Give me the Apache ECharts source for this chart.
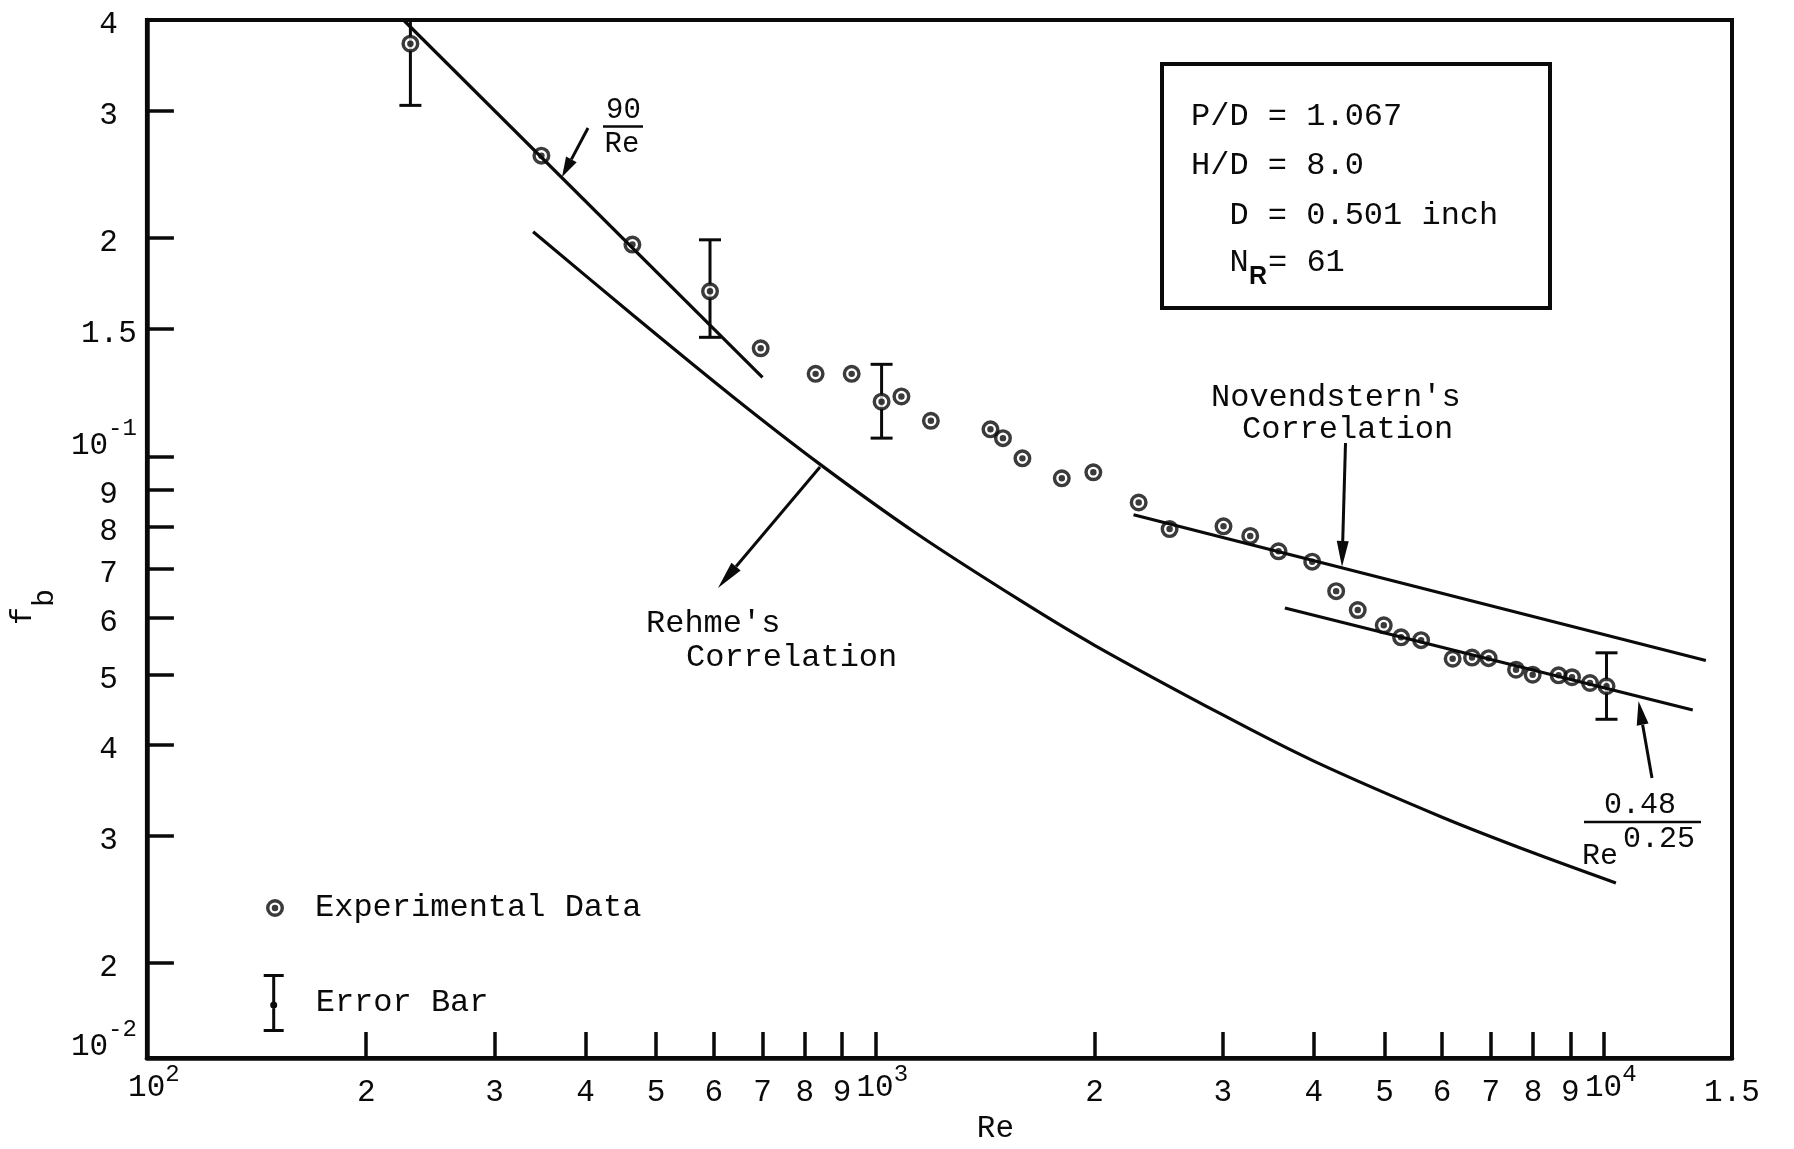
<!DOCTYPE html>
<html>
<head>
<meta charset="utf-8">
<title>Bundle friction factor vs Reynolds number</title>
<script src="https://cdn.jsdelivr.net/npm/echarts@6/dist/echarts.min.js"></script>
<style>
  html, body { margin: 0; padding: 0; background: #fff; }
  #chart { width: 1794px; height: 1149px; }
</style>
</head>
<body>
<div id="chart"></div>
<script>
// ---- measured bundle friction factor ----
const reynolds = [230, 348, 464, 593, 696, 828, 928, 1020, 1086, 1192, 1439, 1497, 1592, 1803, 1992, 2299, 2535, 3006, 3271, 3577, 3979, 4292, 4595, 4989, 5270, 5614, 6203, 6595, 6950, 7579, 7988, 8670, 9046, 9575, 10088];
const frictionFactor = [0.371, 0.260, 0.196, 0.169, 0.141, 0.130, 0.130, 0.119, 0.121, 0.112, 0.109, 0.106, 0.0994, 0.0933, 0.0951, 0.0864, 0.0794, 0.0801, 0.0777, 0.0740, 0.0716, 0.0652, 0.0614, 0.0585, 0.0563, 0.0558, 0.0526, 0.0528, 0.0527, 0.0508, 0.0500, 0.0499, 0.0496, 0.0487, 0.0482];

// ---- error bars (Re, lower, upper) ----
const errorBarRe = [230, 593, 1020, 10088];
const errorBarLow = [0.305, 0.146, 0.106, 0.0434];
const errorBarHigh = [0.450, 0.199, 0.134, 0.0536];

// ---- reference curves ----
const laminarRe = [225, 700];            // 90 / Re
const laminarFb = [0.400, 0.1286];
const rehmeRe = [339, 465, 638, 839, 1139, 1589, 2000, 3000, 4000, 6000, 8000, 10393];
const rehmeFb = [0.2042, 0.1566, 0.1208, 0.0976, 0.0783, 0.0631, 0.0549, 0.0440, 0.0380, 0.0318, 0.0284, 0.0258];
const novendsternRe = [2262, 13810];
const novendsternFb = [0.0831, 0.0523];
const fitRe = [3650, 13250];             // 0.48 / Re^0.25
const fitFb = [0.0618, 0.0447];

// ---- axes ----
const xAxisMin = 100, xAxisMax = 15000;
const yAxisMin = 0.0148, yAxisMax = 0.4;
const xTickValues = [200, 300, 400, 500, 600, 700, 800, 900, 1000, 2000, 3000, 4000, 5000, 6000, 7000, 8000, 9000, 10000];
const xLabelValues = [100, 200, 300, 400, 500, 600, 700, 800, 900, 1000, 2000, 3000, 4000, 5000, 6000, 7000, 8000, 9000, 10000, 15000];
const xLabelTexts = ['10^2', '2', '3', '4', '5', '6', '7', '8', '9', '10^3', '2', '3', '4', '5', '6', '7', '8', '9', '10^4', '1.5'];
const yTickValues = [0.4, 0.3, 0.2, 0.15, 0.1, 0.09, 0.08, 0.07, 0.06, 0.05, 0.04, 0.03, 0.02];
const yLabelValues = [0.4, 0.3, 0.2, 0.15, 0.1, 0.09, 0.08, 0.07, 0.06, 0.05, 0.04, 0.03, 0.02, 0.01481];
const yLabelTexts = ['4', '3', '2', '1.5', '10^-1', '9', '8', '7', '6', '5', '4', '3', '2', '10^-2'];

const FONT = '"Liberation Mono", "DejaVu Sans Mono", monospace';
const INK = '#0a0a0a';

function zip(a, b) { return a.map((v, i) => [v, b[i]]); }

function tickText(values, texts, v) {
  let best = 0, gap = Infinity;
  values.forEach((t, i) => {
    const g = Math.abs(Math.log10(t) - Math.log10(v));
    if (g < gap) { gap = g; best = i; }
  });
  return texts[best];
}
function richLabel(text) {
  const m = /^10\^(.+)$/.exec(text);
  if (m) return '{b|10}{s|' + m[1] + '}';
  if (text.indexOf('.') >= 0) return '{w|' + text + '}';
  return '{d|' + text + '}';
}
function txt(extra) { return Object.assign({ fontFamily: FONT, color: INK }, extra); }

// ring with a centre dot, used for the measured points
const RING = 'path://M10,0 A10,10 0 1,1 10,20 A10,10 0 1,1 10,0 Z M10,3.8 A6.2,6.2 0 1,0 10,16.2 A6.2,6.2 0 1,0 10,3.8 Z M10,6.4 A3.6,3.6 0 1,1 10,13.6 A3.6,3.6 0 1,1 10,6.4 Z';
// error bar glyph for the key
const BAR = 'path://M0,0 H20 V3 H11.5 V55 H20 V58 H0 V55 H8.5 V3 H0 Z M10,27.5 A3.5,3.5 0 1,1 10,34.5 A3.5,3.5 0 1,1 10,27.5 Z';

function arrow(x1, y1, x2, y2, len, half) {
  const dx = x2 - x1, dy = y2 - y1, d = Math.hypot(dx, dy);
  const ux = dx / d, uy = dy / d, bx = x2 - ux * len, by = y2 - uy * len;
  return [
    { type: 'line', silent: true, shape: { x1: x1, y1: y1, x2: bx, y2: by }, style: { stroke: INK, lineWidth: 3 } },
    { type: 'polygon', silent: true, shape: { points: [[x2, y2], [bx - uy * half, by + ux * half], [bx + uy * half, by - ux * half]] }, style: { fill: INK } }
  ];
}
function label(text, x, y, size, align, rich) {
  return {
    type: 'text', silent: true, x: x, y: y,
    style: {
      text: text, fill: INK, font: size + 'px ' + FONT,
      align: align, textAlign: align, verticalAlign: 'middle', textVerticalAlign: 'middle',
      rich: rich
    }
  };
}
function rule(x1, x2, y) {
  return { type: 'line', silent: true, shape: { x1: x1, y1: y, x2: x2, y2: y }, style: { stroke: INK, lineWidth: 2.5 } };
}

const curveStyle = { color: INK, width: 3.2 };

const option = {
  backgroundColor: '#fff',
  animation: false,
  textStyle: { fontFamily: FONT, color: INK },
  grid: { left: 146.5, right: 62, top: 20, bottom: 86, show: true, borderColor: INK, borderWidth: 4, backgroundColor: 'transparent' },
  xAxis: {
    type: 'log', logBase: 10, min: xAxisMin, max: xAxisMax,
    axisLine: { show: true, lineStyle: { color: INK, width: 4.5 } },
    axisTick: { show: true, inside: true, length: 26, customValues: xTickValues, lineStyle: { color: INK, width: 3.5 } },
    minorTick: { show: false },
    splitLine: { show: false },
    axisLabel: {
      customValues: xLabelValues, margin: 3, color: INK, fontFamily: FONT, fontSize: 31,
      formatter: v => richLabel(tickText(xLabelValues, xLabelTexts, v)),
      rich: {
        d: txt({ fontSize: 31, padding: [16, 0, 0, 0], verticalAlign: 'top' }),
        w: txt({ fontSize: 31, padding: [16, 0, 0, 0], verticalAlign: 'top' }),
        b: txt({ fontSize: 31, padding: [11, 0, 0, 14], verticalAlign: 'top' }),
        s: txt({ fontSize: 24, padding: [2, 0, 0, 0], verticalAlign: 'top' })
      }
    },
    name: 'Re', nameLocation: 'middle', nameGap: 55,
    nameTextStyle: { fontFamily: FONT, fontSize: 31, color: INK, padding: [0, 0, 0, 112] }
  },
  yAxis: {
    type: 'log', logBase: 10, min: yAxisMin, max: yAxisMax,
    axisLine: { show: true, lineStyle: { color: INK, width: 4.5 } },
    axisTick: { show: true, inside: true, length: 27, customValues: yTickValues, lineStyle: { color: INK, width: 3.5 } },
    minorTick: { show: false },
    splitLine: { show: false },
    axisLabel: {
      customValues: yLabelValues, margin: 10, color: INK, fontFamily: FONT, fontSize: 31,
      formatter: v => richLabel(tickText(yLabelValues, yLabelTexts, v)),
      rich: {
        d: txt({ fontSize: 31, padding: [10, 19, 0, 0] }),
        w: txt({ fontSize: 31, padding: [10, 0, 0, 0] }),
        b: txt({ fontSize: 31, padding: [0, 0, 35, 0], verticalAlign: 'bottom' }),
        s: txt({ fontSize: 24, padding: [0, 0, 56, 0], verticalAlign: 'top' })
      }
    },
    name: '{f|f}{b|b}', nameLocation: 'middle', nameRotate: 90, nameGap: 60,
    nameTextStyle: {
      padding: [0, 136, 0, 0],
      rich: {
        f: txt({ fontSize: 30, verticalAlign: 'top' }),
        b: txt({ fontSize: 30, padding: [22, 0, 0, 0], verticalAlign: 'top' })
      }
    }
  },
  legend: [
    {
      data: [{ name: 'Experimental Data', icon: RING }],
      left: 266, top: 892, padding: 0, itemWidth: 64, itemHeight: 18, selectedMode: false,
      textStyle: { fontFamily: FONT, fontSize: 32, color: INK, padding: [0, 0, 0, 3] }
    },
    {
      data: [{ name: 'Error Bar', icon: BAR }],
      left: 263.7, top: 974, padding: 0, itemWidth: 64, itemHeight: 58, selectedMode: false,
      textStyle: { fontFamily: FONT, fontSize: 32, color: INK, padding: [0, 0, 0, 5] }
    }
  ],
  series: [
    { name: '90/Re', type: 'line', silent: true, symbol: 'none', data: zip(laminarRe, laminarFb), lineStyle: curveStyle },
    { name: "Rehme's Correlation", type: 'line', silent: true, symbol: 'none', smooth: 0.25, data: zip(rehmeRe, rehmeFb), lineStyle: curveStyle },
    { name: "Novendstern's Correlation", type: 'line', silent: true, symbol: 'none', data: zip(novendsternRe, novendsternFb), lineStyle: curveStyle },
    { name: '0.48/Re^0.25', type: 'line', silent: true, symbol: 'none', data: zip(fitRe, fitFb), lineStyle: curveStyle },
    {
      name: 'Error Bar', type: 'custom', silent: true, clip: true,
      itemStyle: { color: INK },
      encode: { x: 0, y: [1, 2] },
      data: errorBarRe.map((re, i) => [re, errorBarLow[i], errorBarHigh[i]]),
      renderItem: function (params, api) {
        const lo = api.coord([api.value(0), api.value(1)]);
        const hi = api.coord([api.value(0), api.value(2)]);
        const half = 11, st = { stroke: INK, lineWidth: 3 };
        return {
          type: 'group', children: [
            { type: 'line', shape: { x1: lo[0], y1: lo[1], x2: hi[0], y2: hi[1] }, style: st },
            { type: 'line', shape: { x1: lo[0] - half, y1: lo[1], x2: lo[0] + half, y2: lo[1] }, style: st },
            { type: 'line', shape: { x1: hi[0] - half, y1: hi[1], x2: hi[0] + half, y2: hi[1] }, style: st }
          ]
        };
      }
    },
    // white fill behind each ring so bars and curves do not show through
    { type: 'scatter', silent: true, symbol: 'circle', symbolSize: 15, data: zip(reynolds, frictionFactor), itemStyle: { color: '#fff' } },
    { name: 'Experimental Data', type: 'scatter', silent: true, symbol: RING, symbolSize: 18, data: zip(reynolds, frictionFactor), itemStyle: { color: INK } }
  ],
  graphic: [
    // parameter box
    { type: 'rect', silent: true, shape: { x: 1162, y: 64, width: 388, height: 244 }, style: { fill: 'none', stroke: INK, lineWidth: 4 } },
    label('P/D = 1.067', 1191, 117, 32, 'left'),
    label('H/D = 8.0', 1191, 166, 32, 'left'),
    label('  D = 0.501 inch', 1191, 216, 32, 'left'),
    label('  N', 1191, 263, 32, 'left'),
    { type: 'text', silent: true, x: 1258, y: 277, style: { text: 'R', fill: INK, font: 'bold 25px "Liberation Sans", sans-serif', align: 'center', textAlign: 'center', verticalAlign: 'middle', textVerticalAlign: 'middle' } },
    label('= 61', 1268, 263, 32, 'left'),

    // 90/Re
    label('90', 623.5, 110, 29, 'center'),
    rule(603, 643, 126.5),
    label('Re', 622, 144, 29, 'center'),
    ...arrow(588, 128, 562, 177, 20, 6),

    // Rehme's correlation
    label("Rehme's", 646, 624, 32, 'left'),
    label('Correlation', 686, 658, 32, 'left'),
    ...arrow(820, 467, 718, 588, 28, 6),

    // Novendstern's correlation
    label("Novendstern's", 1211, 398, 32, 'left'),
    label('Correlation', 1242, 430, 32, 'left'),
    ...arrow(1345.5, 443, 1342, 567, 26, 6),

    // 0.48 / Re^0.25
    label('0.48', 1640, 805, 30, 'center'),
    rule(1584, 1701, 822),
    label('Re', 1600, 856, 30, 'center'),
    label('0.25', 1659, 839, 30, 'center'),
    ...arrow(1652, 778, 1638.5, 701, 24, 6)
  ]
};

const chart = echarts.init(document.getElementById('chart'), null, { renderer: 'canvas' });
chart.setOption(option);
</script>
</body>
</html>
